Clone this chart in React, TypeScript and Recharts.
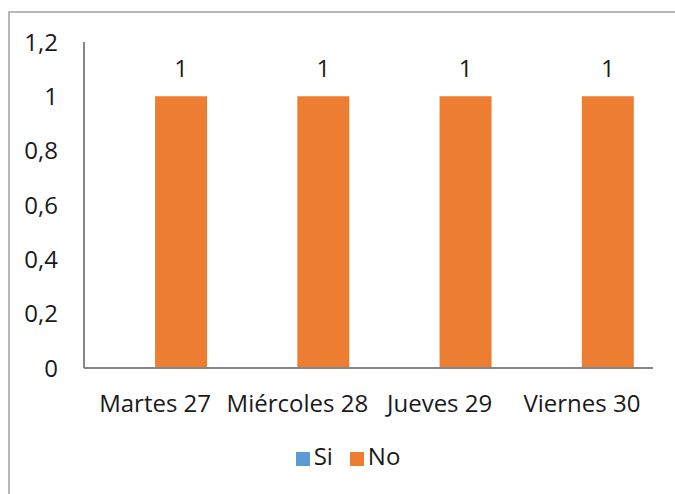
import { BarChart, Bar, XAxis, YAxis, Legend, LabelList } from "recharts";

const categories = ["Martes 27", "Miércoles 28", "Jueves 29", "Viernes 30"];
const siValues = [0, 0, 0, 0];
const noValues = [1, 1, 1, 1];
const yTicks = [0, 0.2, 0.4, 0.6, 0.8, 1, 1.2];
const seriesOrder = ["Si", "No"];

const data = categories.map((name, i) => ({
  name,
  Si: siValues[i],
  No: noValues[i],
}));

const FONT = "'Open Sans', sans-serif";
const TEXT = "#1a1a1a";
const AXIS = "#868686";
const FS = 24;

export default function App() {
  return (
    <>
      <style>{"html,body{margin:0;padding:0;overflow:hidden;}"}</style>
      <div
        style={{
          position: "absolute",
          left: 8,
          top: 11,
          width: 680,
          height: 500,
          borderTop: "2px solid #b8b8b8",
          borderLeft: "2px solid #b8b8b8",
          background: "#fff",
          fontFamily: FONT,
        }}
      >
        <BarChart
          width={665}
          height={481}
          data={data}
          margin={{ top: 29, right: 22, left: 0, bottom: 23 }}
          barCategoryGap="13.4%"
          barGap={0}
        >
          <XAxis
            dataKey="name"
            interval={0}
            tickLine={false}
            tickSize={0}
            tickMargin={27}
            height={73}
            axisLine={{ stroke: AXIS, strokeWidth: 2 }}
            tick={{ fontSize: FS, fill: TEXT, fontFamily: FONT }}
          />
          <YAxis
            width={74}
            domain={[0, 1.2]}
            ticks={yTicks}
            tickLine={false}
            tickSize={0}
            tickMargin={26}
            axisLine={{ stroke: AXIS, strokeWidth: 2 }}
            tick={{ fontSize: FS, fill: TEXT, fontFamily: FONT }}
            tickFormatter={(v: number) => String(v).replace(".", ",")}
          />
          <Legend
            verticalAlign="bottom"
            iconType="square"
            iconSize={14}
            itemSorter={(item: any) => seriesOrder.indexOf(item.value)}
            wrapperStyle={{
              fontSize: FS,
              height: 30,
              lineHeight: "30px",
              color: TEXT,
              paddingLeft: 50,
              boxSizing: "border-box",
            }}
            formatter={(value: string) => (
              <span style={{ color: TEXT, marginRight: 7 }}>{value}</span>
            )}
          />
          <Bar dataKey="Si" fill="#5B9BD5" isAnimationActive={false} />
          <Bar dataKey="No" fill="#ED7D31" isAnimationActive={false}>
            <LabelList
              dataKey="No"
              position="top"
              offset={19}
              fill={TEXT}
              fontSize={FS}
              fontFamily={FONT}
            />
          </Bar>
        </BarChart>
      </div>
    </>
  );
}
